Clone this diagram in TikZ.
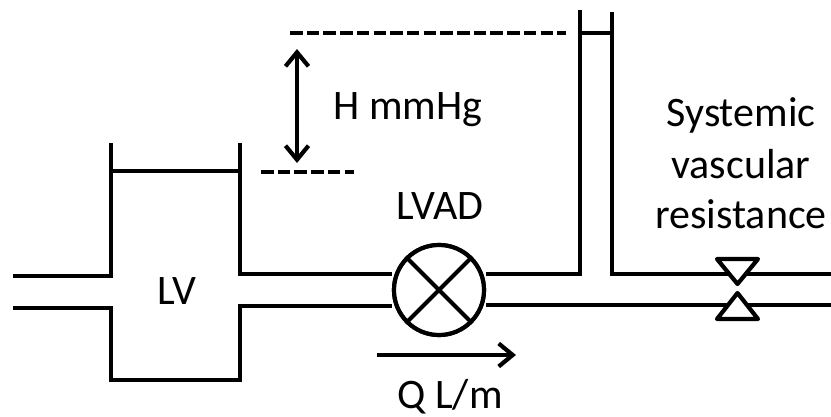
\documentclass[tikz,border=0pt]{standalone}
\usepackage{fontspec}
\setmainfont{Carlito}
\usetikzlibrary{arrows.meta}
\tikzset{
  pipe/.style={line width=4.2pt,line join=miter,black},
  thinpipe/.style={line width=3.6pt,black},
  level/.style={line width=4.4pt,dash pattern=on 12.5pt off 4.2pt},
  flow/.style={line width=4.2pt,-{Straight Barb[length=14pt,width=23pt,line width=4.2pt]}},
  dblflow/.style={line width=4.2pt,{Straight Barb[length=14pt,width=23pt,line width=4.2pt]}-{Straight Barb[length=14pt,width=23pt,line width=4.2pt]}},
  label/.style={font=\fontsize{42}{51}\selectfont,inner sep=0pt,align=center,anchor=base},
  pump/.style={circle,draw,line width=4.2pt,minimum size=90pt,inner sep=0pt,fill=white},
  valveshape/.style={draw,line width=4.2pt,line join=round,fill=white}
}
\begin{document}
\begin{tikzpicture}[x=1pt,y=-1pt]
\useasboundingbox (0,0) rectangle (831,417);
% nodes
\node[pump] (pump) at (439,290) {};
\node[label] (lv) at (177,304) {LV};
\node[label] (lvad) at (440,220) {LVAD};
\node[label] (q) at (450,408) {Q L/m};
\node[label] (h) at (408,120) {H mmHg};
\node[label] (svr) at (741,229) {Systemic\\vascular\\resistance};
% coordinates
\coordinate (inUpS) at (13,276);
\coordinate (inUpE) at (111,276);
\coordinate (inLoS) at (13,308);
\coordinate (inLoE) at (111,308);
\coordinate (lvTL) at (111,143);
\coordinate (lvTR) at (240,143);
\coordinate (lvUpR) at (240,274);
\coordinate (lvLoR) at (240,306);
\coordinate (lvBL) at (111,380);
\coordinate (lvBR) at (240,380);
\coordinate (colLT) at (580,10);
\coordinate (colLB) at (580,274);
\coordinate (colRT) at (612,12);
\coordinate (colRB) at (612,274);
\coordinate (outU) at (831,274);
\coordinate (outL) at (831,305);
% LV chamber
\draw[pipe] (inUpS) -- (inUpE) -- (lvTL);
\draw[pipe] (inLoS) -- (inLoE) -- (lvBL) -- (lvBR) -- (lvLoR) -- (pump.180 |- lvLoR);
\draw[pipe] (lvTR) -- (lvUpR) -- (pump.180 |- lvUpR);
\draw[thinpipe] (111,171) -- (240,171);
% pump connections
\draw[pipe] (pump.east |- colLB) -- (colLB) -- (colLT);
\draw[pipe] (colRT) -- (colRB) -- (outU);
\draw[pipe] (pump.east |- outL) -- (outL);
\draw[thinpipe] (582,33) -- (612,33);
% redraw pump on top
\node[pump] (pumptop) at (pump) {};
\draw[line width=4.2pt] (pumptop.45) -- (pumptop.225);
\draw[line width=4.2pt] (pumptop.135) -- (pumptop.315);
% levels
\coordinate (lvlA) at (290,33);
\coordinate (lvlB) at (566,33);
\coordinate (lvlC) at (261,172);
\coordinate (lvlD) at (354,172);
\draw[level] (lvlA) -- (lvlB);
\draw[level] (lvlC) -- (lvlD);
% arrows
\coordinate (hT) at (297,49);
\coordinate (hB) at (297,163);
\draw[dblflow] (hT) -- (hB);
\coordinate (qS) at (377,355);
\coordinate (qE) at (516,355);
\draw[flow] (qS) -- (qE);
% valve
\draw[valveshape] (717,259) -- (758,259) -- (737.5,284) -- cycle;
\draw[valveshape] (717,319) -- (758,319) -- (737.5,293) -- cycle;
\end{tikzpicture}
\end{document}
